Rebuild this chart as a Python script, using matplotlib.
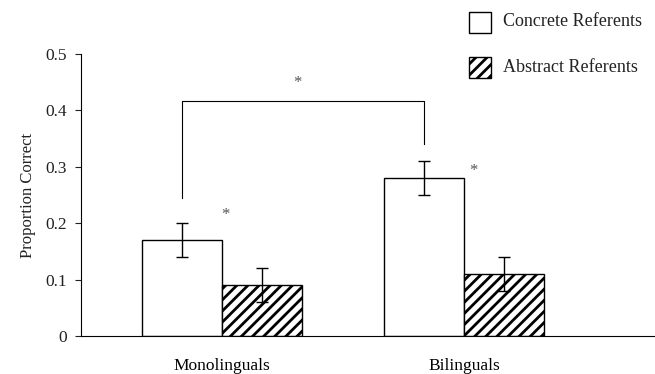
import matplotlib
matplotlib.use("Agg")
import matplotlib.pyplot as plt
import numpy as np
from matplotlib.patches import Rectangle

plt.rcParams['font.family'] = ['Liberation Serif', 'DejaVu Serif']
plt.rcParams['hatch.linewidth'] = 2.0

groups = ["Monolinguals", "Bilinguals"]
series = ["Concrete Referents", "Abstract Referents"]
concrete = [0.17, 0.28]
concrete_err = [0.03, 0.03]
abstract = [0.09, 0.11]
abstract_err = [0.03, 0.03]
yticks = [0, 0.1, 0.2, 0.3, 0.4, 0.5]
ytick_labels = ["0", "0.1", "0.2", "0.3", "0.4", "0.5"]

fig = plt.figure(figsize=(6.55, 3.74), dpi=100)
ax = fig.add_axes([0.1237, 0.1016, 0.8763, 0.754])

x = np.arange(len(groups))
w = 0.33
ax.bar(x - w/2, concrete, w, color='white', edgecolor='black', linewidth=1.0, zorder=2)
ax.bar(x + w/2, abstract, w, color='white', edgecolor='black', linewidth=1.0,
       hatch='///', zorder=2)
ax.errorbar(x - w/2, concrete, yerr=concrete_err, fmt='none', ecolor='black',
            elinewidth=1.0, capsize=4, capthick=1.0, zorder=3)
ax.errorbar(x + w/2, abstract, yerr=abstract_err, fmt='none', ecolor='black',
            elinewidth=1.0, capsize=4, capthick=1.0, zorder=3)

ax.set_xlim(-0.583, 1.789)
ax.set_ylim(0, 0.5)
ax.set_yticks(yticks)
ax.set_yticklabels(ytick_labels, fontsize=12.5)
ax.set_xticks(x)
ax.set_xticklabels(groups, fontsize=12.5)
ax.tick_params(axis='x', length=0, pad=16)
ax.tick_params(axis='y', length=4, width=0.8, direction='out', pad=6, colors='#222222')
ax.set_ylabel("Proportion Correct", fontsize=12, labelpad=7, color='#222222')
for s in ['top', 'right']:
    ax.spines[s].set_visible(False)
ax.spines['left'].set_linewidth(0.8)
ax.spines['bottom'].set_linewidth(0.8)

# significance bracket
bx0 = x[0] - w/2
bx1 = x[1] - w/2
ax.plot([bx0, bx0, bx1, bx1], [0.245, 0.417, 0.417, 0.34], color='black',
        linewidth=0.8, clip_on=False, zorder=1)
ax.text(0.31, 0.448, "*", ha='center', va='center', fontsize=12, color='#555555')
ax.text(0.012, 0.215, "*", ha='center', va='center', fontsize=12, color='#555555')
ax.text(1.037, 0.293, "*", ha='center', va='center', fontsize=12, color='#555555')

# legend drawn in figure pixels
def fx(px):
    return px / 655
def fy(py):
    return 1 - py / 374
fig.patches.append(Rectangle((fx(469), fy(33)), 22/655, 21/374, transform=fig.transFigure,
                             facecolor='white', edgecolor='black', linewidth=1.0))
fig.patches.append(Rectangle((fx(469), fy(78)), 22/655, 21/374, transform=fig.transFigure,
                             facecolor='white', edgecolor='black', linewidth=1.0, hatch='///'))
fig.text(fx(503), fy(22), series[0], fontsize=13, va='center', ha='left', color='#222222')
fig.text(fx(503), fy(67), series[1], fontsize=13, va='center', ha='left', color='#222222')

fig.savefig("out.png", dpi=100)
